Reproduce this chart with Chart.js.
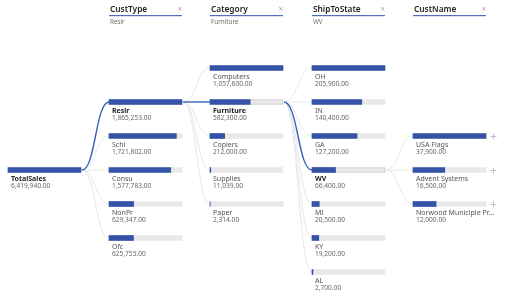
<!DOCTYPE html>
<html><head><meta charset="utf-8">
<script src="https://cdn.jsdelivr.net/npm/chart.js@4"></script>
<style>html,body{margin:0;padding:0;background:#fff;overflow:hidden}#wrap{position:relative;width:507px;height:299px}</style>
</head><body><div id="wrap"><canvas id="c"></canvas></div>
<script>
// ---- data ----
const levelNames = ['TotalSales', 'CustType', 'Category', 'ShipToState', 'CustName'];
const rootLabels = ['TotalSales'];
const rootValues = [6419940.00];
const custTypeLabels = ['Reslr', 'Schl', 'Consu', 'NonPr', 'Ofc'];
const custTypeValues = [1865253.00, 1721802.00, 1577783.00, 629347.00, 625755.00];
const categoryLabels = ['Computers', 'Furniture', 'Copiers', 'Supplies', 'Paper'];
const categoryValues = [1057600.00, 582300.00, 212000.00, 11039.00, 2314.00];
const stateLabels = ['OH', 'IN', 'GA', 'WV', 'MI', 'KY', 'AL'];
const stateValues = [205900.00, 140400.00, 127200.00, 66400.00, 20500.00, 19200.00, 2700.00];
const custNameLabels = ['USA Flags', 'Advent Systems', 'Norwood Municiple Pr...'];
const custNameValues = [37900.00, 16500.00, 12000.00];
const selectedPath = ['TotalSales', 'Reslr', 'Furniture', 'WV', null];

// ---- layout (not data) ----
const columns = [
  {labels: rootLabels, values: rootValues},
  {labels: custTypeLabels, values: custTypeValues},
  {labels: categoryLabels, values: categoryValues},
  {labels: stateLabels, values: stateValues},
  {labels: custNameLabels, values: custNameValues}
];
const colStart = [8, 109, 210, 312, 413];
const colWidth = 73;
const rowOffset = [3, 1, 0, 0, 2];
const NROWS = 7;
const rowKeys = Array.from({length: NROWS}, (_, i) => 'r' + i);
const BLUE = '#3354a6';
const TRACK = '#e8e8e8';
const FONT = '"Noto Sans", "Liberation Sans", sans-serif';
const CANVAS_W = 507;

function slot(arr, off) {
  const out = new Array(NROWS).fill(null);
  arr.forEach((v, i) => { out[off + i] = v; });
  return out;
}

const datasets = [];
const scales = {
  y: {type: 'category', labels: rowKeys, display: false, offset: true, grid: {display: false}}
};
columns.forEach((col, k) => {
  const M = Math.max(...col.values);
  const s = colStart[k];
  const mn = -s * M / colWidth;
  scales['x' + k] = {
    type: 'linear', display: false, axis: 'x', bounds: 'data',
    min: mn, max: mn + M * CANVAS_W / colWidth,
    grace: 0
  };
  const selIdx = col.labels.indexOf(selectedPath[k]);
  datasets.push({
    label: 'track' + k, colIndex: k, isTrack: true,
    data: slot(col.values.map(() => M), rowOffset[k]),
    xAxisID: 'x' + k, yAxisID: 'y',
    backgroundColor: TRACK,
    borderColor: (ctx) => (k > 0 && ctx.dataIndex - rowOffset[k] === selIdx) ? '#c8c8c8' : TRACK,
    borderWidth: (ctx) => (k > 0 && ctx.dataIndex - rowOffset[k] === selIdx) ? 1 : 0,
    borderSkipped: false,
    barThickness: 5, grouped: false, order: 2
  });
  datasets.push({
    label: levelNames[k], colIndex: k, isTrack: false,
    data: slot(col.values, rowOffset[k]),
    xAxisID: 'x' + k, yAxisID: 'y',
    backgroundColor: BLUE, borderWidth: 0,
    barThickness: 5, grouped: false, order: 1
  });
});

function fmt(v) {
  return v.toLocaleString('en-US', {minimumFractionDigits: 2, maximumFractionDigits: 2});
}

function getEls(chart, k, track) {
  const idx = chart.data.datasets.findIndex(d => d.colIndex === k && d.isTrack === track);
  const meta = chart.getDatasetMeta(idx);
  const col = columns[k];
  return col.values.map((v, i) => meta.data[rowOffset[k] + i]);
}

const treePlugin = {
  id: 'tree',
  beforeDatasetsDraw(chart) {
    const ctx = chart.ctx;
    ctx.save();
    const drawList = [];
    for (let k = 1; k < columns.length; k++) {
      const pIdx = columns[k - 1].labels.indexOf(selectedPath[k - 1]);
      const pTrack = getEls(chart, k - 1, true)[pIdx];
      const kids = getEls(chart, k, true);
      const selIdx = columns[k].labels.indexOf(selectedPath[k]);
      kids.forEach((el, i) => {
        drawList.push({x1: pTrack.x + 1, y1: pTrack.y, x2: el.base, y2: el.y, sel: i === selIdx});
      });
    }
    drawList.sort((a, b) => a.sel - b.sel);
    drawList.forEach(c => {
      const d = c.x2 - c.x1;
      ctx.beginPath();
      ctx.moveTo(c.x1, c.y1);
      ctx.bezierCurveTo(c.x1 + d * 0.5, c.y1, c.x2 - d * 0.5, c.y2, c.x2, c.y2);
      ctx.strokeStyle = c.sel ? '#3a5fb8' : '#e6e6e6';
      ctx.lineWidth = c.sel ? 1.4 : 1;
      ctx.stroke();
    });
    ctx.restore();
  },
  afterDatasetsDraw(chart) {
    const ctx = chart.ctx;
    ctx.save();
    ctx.textBaseline = 'middle';
    ctx.textAlign = 'left';
    columns.forEach((col, k) => {
      const els = getEls(chart, k, true);
      els.forEach((el, i) => {
        const isSel = col.labels[i] === selectedPath[k];
        ctx.font = (isSel ? 'bold ' : '') + '7px ' + FONT;
        ctx.fillStyle = isSel ? '#252423' : '#555555';
        ctx.fillText(col.labels[i], el.base + 3, el.y + 8.7);
        ctx.font = '6.6px ' + FONT;
        ctx.fillStyle = '#6a6866';
        ctx.fillText(fmt(col.values[i]), el.base + 3, el.y + 16.5);
        if (k === columns.length - 1) {
          ctx.strokeStyle = '#bdbdbd';
          ctx.lineWidth = 1;
          const px = Math.round(el.x + 7) + 0.5, py = Math.round(el.y) + 0.5;
          ctx.beginPath();
          ctx.moveTo(px - 3, py); ctx.lineTo(px + 3, py);
          ctx.moveTo(px, py - 3); ctx.lineTo(px, py + 3);
          ctx.stroke();
        }
      });
      if (k > 0) {
        const x0 = els[0].base;
        const x1 = els[0].x;
        ctx.font = '600 8.3px ' + FONT;
        ctx.fillStyle = '#252423';
        ctx.fillText(levelNames[k], x0 + 1, 10);
        ctx.fillStyle = '#4e6fc2';
        ctx.fillRect(x0, 15, x1 - x0, 1.2);
        ctx.font = '8px ' + FONT;
        ctx.fillStyle = '#a8a8a8';
        ctx.textAlign = 'right';
        ctx.fillText('×', x1, 10);
        ctx.textAlign = 'left';
        if (selectedPath[k]) {
          ctx.font = '6.3px ' + FONT;
          ctx.fillStyle = '#707070';
          ctx.fillText(selectedPath[k], x0 + 1, 22);
        }
      }
    });
    ctx.restore();
  }
};

new Chart(document.getElementById('c'), {
  type: 'bar',
  data: {labels: rowKeys, datasets},
  options: {
    indexAxis: 'y',
    responsive: true,
    maintainAspectRatio: false,
    animation: false,
    layout: {padding: {top: 51, bottom: 10, left: 0, right: 0}},
    scales,
    plugins: {legend: {display: false}, tooltip: {enabled: false}, title: {display: false}}
  },
  plugins: [treePlugin]
});
</script>
</body></html>
